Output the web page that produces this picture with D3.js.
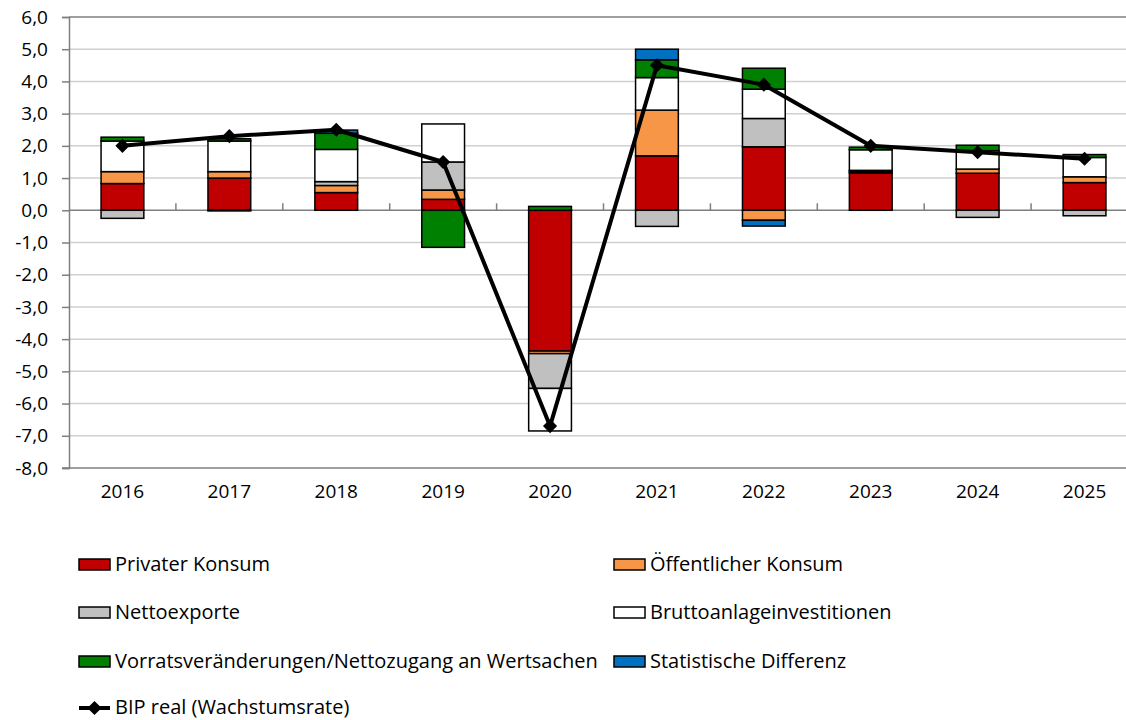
<!DOCTYPE html>
<html>
<head>
<meta charset="utf-8">
<script src="https://cdn.jsdelivr.net/npm/d3@7"></script>
<style>
  body { margin: 0; background: #fff; }
  svg { display: block; font-family: "Open Sans", sans-serif; }
</style>
</head>
<body>
<svg id="chart" width="1126" height="720"></svg>
<script>
// Wachstumsbeiträge zum BIP
const years = ["2016","2017","2018","2019","2020","2021","2022","2023","2024","2025"];

const privKonsum   = [0.83, 1.00, 0.55, 0.34, -4.37, 1.69, 1.97, 1.16, 1.15, 0.86];
const oeffKonsum   = [0.37, 0.20, 0.22, 0.29, -0.08, 1.42, -0.31, 0.04, 0.13, 0.18];
const nettoexport  = [-0.25, -0.02, 0.12, 0.87, -1.08, -0.50, 0.88, 0.04, -0.22, -0.17];
const bruttoinv    = [0.95, 0.95, 1.00, 1.18, -1.32, 1.01, 0.91, 0.64, 0.57, 0.60];
const vorrat       = [0.12, 0.07, 0.50, -1.15, 0.12, 0.55, 0.65, 0.08, 0.17, 0.09];
const statDiff     = [0.00, 0.00, 0.10, 0.00, 0.00, 0.33, -0.18, 0.00, 0.00, 0.00];
const bip          = [2.0, 2.3, 2.5, 1.5, -6.7, 4.5, 3.9, 2.0, 1.8, 1.6];

const yTicks = [6, 5, 4, 3, 2, 1, 0, -1, -2, -3, -4, -5, -6, -7, -8];

const seriesNames = ["Privater Konsum", "Öffentlicher Konsum", "Nettoexporte",
  "Bruttoanlageinvestitionen", "Vorratsveränderungen/Nettozugang an Wertsachen", "Statistische Differenz"];
const seriesData = [privKonsum, oeffKonsum, nettoexport, bruttoinv, vorrat, statDiff];
const colors = ["#C00000", "#F79646", "#C0C0C0", "#FFFFFF", "#008000", "#0070C0"];

const svg = d3.select("#chart");
const plotL = 69, plotR = 1138, plotT = 17, plotB = 468;

const x = d3.scaleBand().domain(years).range([plotL, plotR]).paddingInner(0.6).paddingOuter(0.3);
const y = d3.scaleLinear().domain([-8, 6]).range([plotB, plotT]);

// gridlines
svg.append("g").selectAll("line")
  .data(yTicks.filter(t => t !== 6 && t !== -8 && t !== 0))
  .join("line")
  .attr("x1", plotL).attr("x2", 1126)
  .attr("y1", d => y(d)).attr("y2", d => y(d))
  .attr("stroke", "#d0d0d0").attr("stroke-width", 1.5);

// top border
svg.append("line").attr("x1", plotL).attr("x2", 1126)
  .attr("y1", y(6)).attr("y2", y(6)).attr("stroke", "#7f7f7f").attr("stroke-width", 1.5);

// y axis
const yAxis = d3.axisLeft(y).tickValues(yTicks).tickSize(7).tickPadding(14)
  .tickFormat(d => d3.format(".1f")(d).replace(".", ",").replace("−", "-"));
const gy = svg.append("g").attr("transform", `translate(${plotL},0)`).call(yAxis);
gy.select(".domain").attr("stroke", "#7f7f7f").attr("stroke-width", 1.5);
gy.selectAll(".tick line").attr("stroke", "#7f7f7f").attr("stroke-width", 1.5);
gy.selectAll("text").attr("font-size", 19).attr("fill", "#000").attr("font-family", "'Open Sans', sans-serif");

// bottom line
svg.append("line").attr("x1", plotL - 7).attr("x2", 1126)
  .attr("y1", y(-8)).attr("y2", y(-8)).attr("stroke", "#7f7f7f").attr("stroke-width", 1.5);

// x labels at bottom
svg.append("g").selectAll("text").data(years).join("text")
  .attr("x", d => x(d) + x.bandwidth() / 2)
  .attr("y", 498)
  .attr("text-anchor", "middle")
  .attr("font-size", 19)
  .text(d => d);

// zero axis with ticks between categories
svg.append("line").attr("x1", plotL).attr("x2", 1126)
  .attr("y1", y(0)).attr("y2", y(0)).attr("stroke", "#7f7f7f").attr("stroke-width", 1.5);
svg.append("g").selectAll("line").data(years.slice(1)).join("line")
  .attr("x1", d => x(d) - x.step() * x.paddingInner() / 2)
  .attr("x2", d => x(d) - x.step() * x.paddingInner() / 2)
  .attr("y1", y(0)).attr("y2", y(0) - 7)
  .attr("stroke", "#7f7f7f").attr("stroke-width", 1.5);

// stacked bars
const table = years.map((yr, i) => {
  const row = { year: yr };
  seriesNames.forEach((s, k) => row[s] = seriesData[k][i]);
  return row;
});
const stack = d3.stack().keys(seriesNames).offset(d3.stackOffsetDiverging);
const layers = stack(table);

svg.append("g").selectAll("g").data(layers).join("g")
  .attr("fill", (d, k) => colors[k])
  .selectAll("rect").data(d => d.filter(p => p[1] - p[0] !== 0)).join("rect")
  .attr("x", d => x(d.data.year))
  .attr("width", x.bandwidth())
  .attr("y", d => y(d[1]))
  .attr("height", d => y(d[0]) - y(d[1]))
  .attr("stroke", "#000").attr("stroke-width", 1.5);

// BIP line
const line = d3.line().x((d, i) => x(years[i]) + x.bandwidth() / 2).y(d => y(d));
svg.append("path").datum(bip).attr("d", line)
  .attr("fill", "none").attr("stroke", "#000").attr("stroke-width", 4).attr("stroke-linejoin", "round");
const diamond = d3.symbol().type(d3.symbolSquare).size(100);
svg.append("g").selectAll("path").data(bip).join("path")
  .attr("d", diamond)
  .attr("transform", (d, i) => `translate(${x(years[i]) + x.bandwidth() / 2},${y(d)}) rotate(45)`)
  .attr("fill", "#000");

// legend
const legendItems = [
  { k: 0, col: 0, row: 0 }, { k: 1, col: 1, row: 0 },
  { k: 2, col: 0, row: 1 }, { k: 3, col: 1, row: 1 },
  { k: 4, col: 0, row: 2 }, { k: 5, col: 1, row: 2 }
];
const colX = [79, 614], rowY = [564, 612, 661, 708];
const lg = svg.append("g");
legendItems.forEach(it => {
  const g = lg.append("g").attr("transform", `translate(${colX[it.col]},${rowY[it.row]})`);
  g.append("rect").attr("x", 0).attr("y", -5).attr("width", 31).attr("height", 11)
    .attr("fill", colors[it.k]).attr("stroke", "#000").attr("stroke-width", 1.5);
  g.append("text").attr("x", 36).attr("y", 7).attr("font-size", 20).text(seriesNames[it.k]);
});
const lb = lg.append("g").attr("transform", `translate(${colX[0]},${rowY[3]})`);
lb.append("line").attr("x1", 0).attr("x2", 31).attr("y1", 0).attr("y2", 0)
  .attr("stroke", "#000").attr("stroke-width", 4);
lb.append("path").attr("d", diamond).attr("transform", "translate(15.5,0) rotate(45)").attr("fill", "#000");
lb.append("text").attr("x", 36).attr("y", 6).attr("font-size", 20).text("BIP real (Wachstumsrate)");
</script>
</body>
</html>
